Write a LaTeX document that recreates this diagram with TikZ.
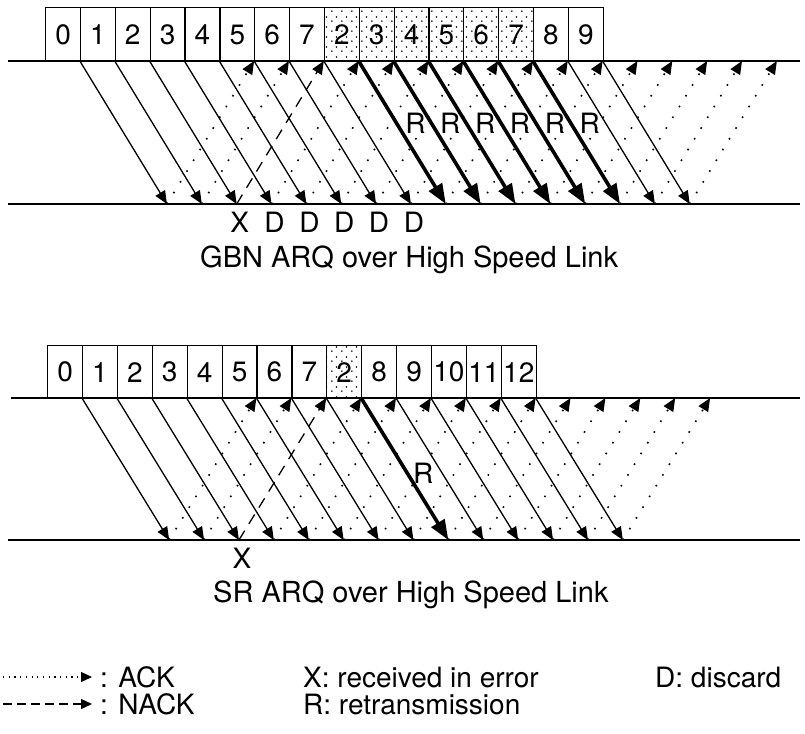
\documentclass[tikz,border=0pt]{standalone}
\usepackage{fontspec}
\setmainfont{TeX Gyre Heros}
\usetikzlibrary{arrows.meta,patterns.meta}
\tikzdeclarepattern{
  name=sparsedots,
  type=uncolored,
  bounding box={(0pt,0pt) and (10pt,10pt)},
  tile size={(10pt,10pt)},
  code={\fill (2pt,2pt) circle (0.95pt); \fill (7pt,6.5pt) circle (0.95pt);}
}
\tikzset{
  lbl/.style={font=\fontsize{28}{30}\selectfont, inner sep=0pt},
  ttl/.style={font=\fontsize{29}{31}\selectfont, inner sep=0pt},
  pktbox/.style={draw, line width=1.2pt, minimum width=34.9pt, minimum height=54pt,
    anchor=north west, inner sep=0pt, font=\fontsize{28}{30}\selectfont},
  rtxbox/.style={pktbox, pattern=sparsedots},
  axis/.style={line width=1.8pt},
  dataarr/.style={line width=1.3pt, -{Triangle[length=13pt,width=11pt]}},
  retxarr/.style={line width=3.6pt, -{Triangle[length=20pt,width=15pt]}},
  ackarr/.style={line width=1.6pt, dash pattern=on 1.6pt off 11pt, -{Triangle[length=13pt,width=11pt]}},
  nackarr/.style={line width=1.3pt, dash pattern=on 11pt off 8pt, -{Triangle[length=13pt,width=11pt]}},
  legdot/.style={line width=1.2pt, dash pattern=on 1.2pt off 4.5pt, -{Triangle[length=11pt,width=10pt]}},
  legdash/.style={line width=1.3pt, dash pattern=on 9pt off 5pt, -{Triangle[length=11pt,width=10pt]}},
}
\begin{document}
\begin{tikzpicture}[x=1pt,y=-1pt]
\useasboundingbox (0,0) rectangle (805,733);

% ================= GBN =================
\coordinate (gTL) at (8,61);  \coordinate (gTR) at (800,61);
\coordinate (gBL) at (8,204); \coordinate (gBR) at (800,204);
\draw[axis] (gTL) -- (gTR);
\draw[axis] (gBL) -- (gBR);
\foreach \k in {0,...,15} {
  \coordinate (gS\k) at ({45+34.85*(\k+1)},61);
  \coordinate (gR\k) at ({45+34.85*(\k+3.5)},204);
  \coordinate (gA\k) at ({45+34.85*(\k+6)},61);
}
\foreach \i/\t in {0/0,1/1,2/2,3/3,4/4,5/5,6/6,7/7,14/8,15/9}
  \node[pktbox] (gb\i) at ({45+34.85*\i},7) {\t};
\foreach \i/\t in {8/2,9/3,10/4,11/5,12/6,13/7}
  \node[rtxbox] (gb\i) at ({45+34.85*\i},7) {\t};
\foreach \k in {0,...,7,14,15}
  \draw[dataarr] (gS\k) -- (gR\k);
\foreach \k in {8,...,13}
  \draw[retxarr] (gS\k) -- (gR\k) node[lbl, pos=0.434, xshift=19pt] (gRt\k) {R};
\foreach \k in {0,1,3,4,5,6,7,8,9,10,11,12,13,14,15}
  \draw[ackarr] (gR\k) -- (gA\k);
\draw[nackarr] (gR2) -- (gA2);
\node[lbl, anchor=north, xshift=3pt, yshift=-8pt] (gX) at (gR2) {X};
\foreach \k in {3,...,7}
  \node[lbl, anchor=north, xshift=3pt, yshift=-8pt] (gD\k) at (gR\k) {D};
\node[ttl, anchor=base west] (gTitle) at (200,267) {GBN ARQ over High Speed Link};

% ================= SR =================
\coordinate (sTL) at (11,398);  \coordinate (sTR) at (800,398);
\coordinate (sBL) at (8,540);  \coordinate (sBR) at (800,540);
\draw[axis] (sTL) -- (sTR);
\draw[axis] (sBL) -- (sBR);
\foreach \k in {0,...,13} {
  \coordinate (sS\k) at ({47+34.9*(\k+1)},398);
  \coordinate (sR\k) at ({47+34.9*(\k+3.5)},540);
  \coordinate (sA\k) at ({47+34.9*(\k+6)},398);
}
\foreach \i/\t in {0/0,1/1,2/2,3/3,4/4,5/5,6/6,7/7,9/8,10/9,11/10,12/11,13/12}
  \node[pktbox, minimum height=53pt] (sb\i) at ({47+34.9*\i},345) {\t};
\node[rtxbox, minimum height=53pt] (sb8) at ({47+34.9*8},345) {2};
\foreach \k in {0,...,7,9,10,11,12,13}
  \draw[dataarr] (sS\k) -- (sR\k);
\draw[retxarr] (sS8) -- (sR8) node[lbl, pos=0.528, xshift=16pt] (sRt8) {R};
\foreach \k in {0,1,3,4,5,6,7,8,9,10,11,12,13}
  \draw[ackarr] (sR\k) -- (sA\k);
\draw[nackarr] (sR2) -- (sA2);
\node[lbl, anchor=north, xshift=3pt, yshift=-8pt] (sX) at (sR2) {X};
\node[ttl, anchor=base west] (sTitle) at (213,602) {SR ARQ over High Speed Link};

% ================= Legend =================
\coordinate (l1a) at (3,677);  \coordinate (l1b) at (92,677);
\coordinate (l2a) at (3,704);  \coordinate (l2b) at (92,704);
\draw[legdot] (l1a) -- (l1b);
\draw[legdash] (l2a) -- (l2b);
\node[lbl, anchor=base west] (lAck) at (100,687) {: ACK};
\node[lbl, anchor=base west] (lNack) at (100,714) {: NACK};
\node[lbl, anchor=base west] (lX) at (303,687) {X: received in error};
\node[lbl, anchor=base west] (lR) at (303,714) {R: retransmission};
\node[lbl, anchor=base west] (lD) at (655,687) {D: discard};
\end{tikzpicture}
\end{document}
